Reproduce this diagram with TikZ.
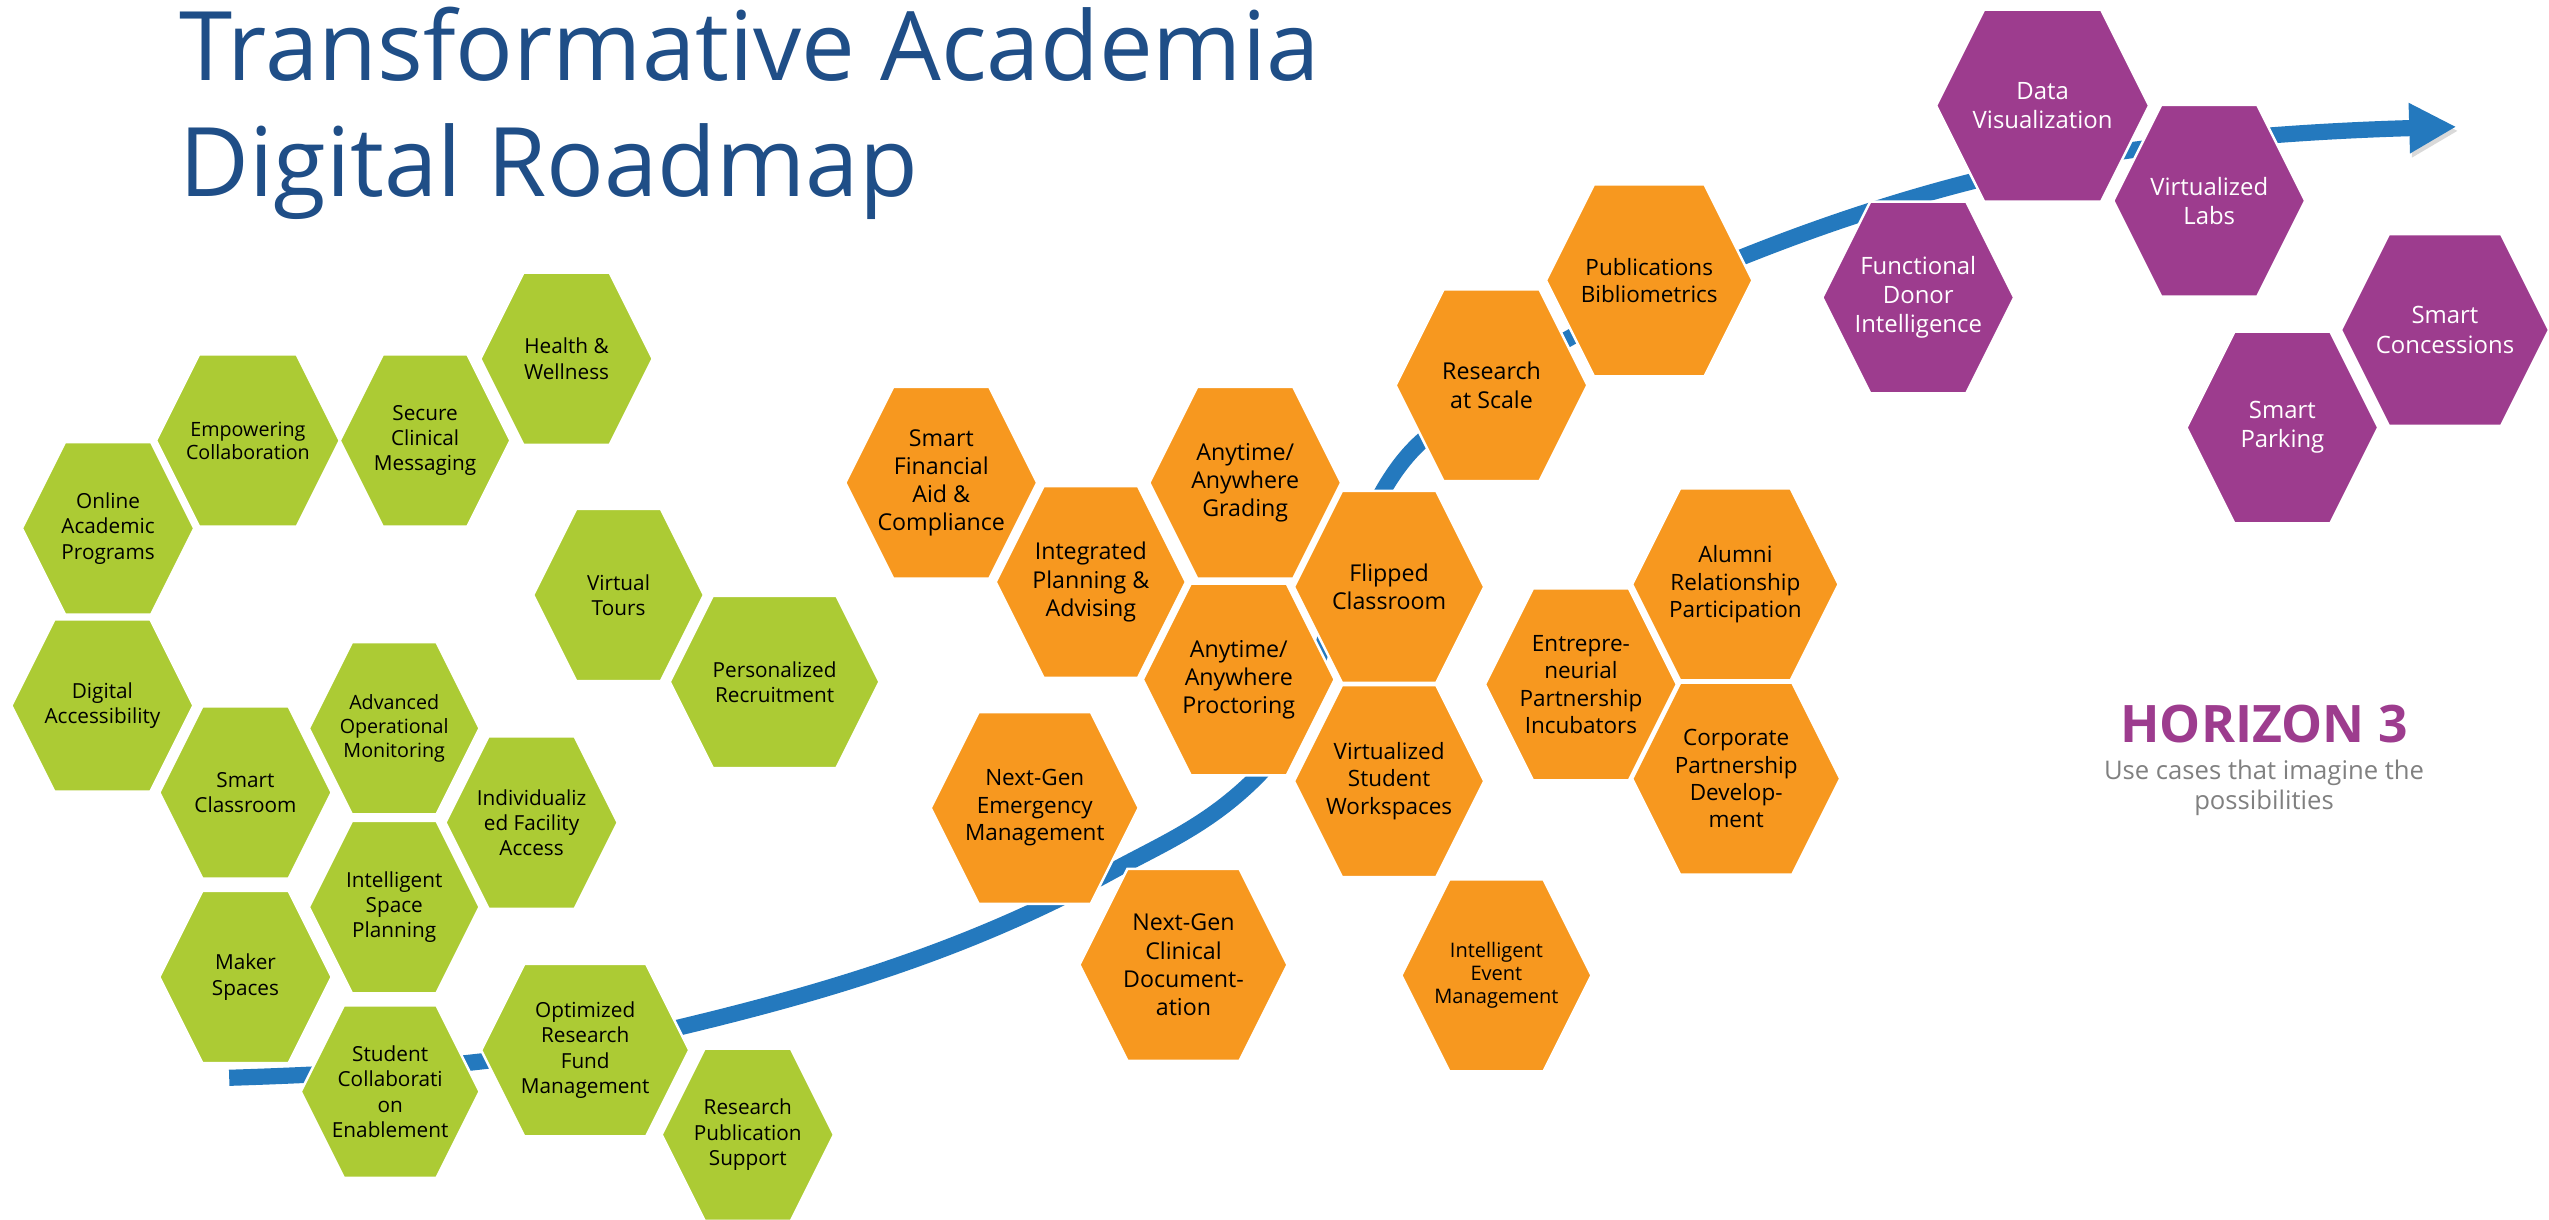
\documentclass[tikz,border=0pt]{standalone}
\usepackage{fontspec}
\setmainfont{Open Sans}
\usepackage{xcolor}
\usepackage{tikz}
\usetikzlibrary{arrows.meta}
\definecolor{leaf}{RGB}{172,203,52}
\definecolor{amber}{RGB}{247,152,31}
\definecolor{plum}{RGB}{157,60,142}
\definecolor{roadblue}{RGB}{36,121,190}
\definecolor{titleblue}{RGB}{31,78,135}
\definecolor{subgray}{RGB}{128,128,128}
\tikzset{
>={Triangle[length=13.4pt,width=13.4pt]},
  leaftext/.style={align=center, inner sep=0pt, text=black,
    font=\fontsize{5.9}{7.2}\selectfont},
  ambertext/.style={align=center, inner sep=0pt, text=black,
    font=\fontsize{6.6}{8}\selectfont},
  plumtext/.style={align=center, inner sep=0pt, text=white,
    font=\fontsize{6.8}{8.3}\selectfont},
  titletext/.style={inner sep=0pt, text=titleblue,
    font=\fontsize{27.3}{32.8}\selectfont},
  horizontext/.style={inner sep=0pt, text=plum,
    font=\fontsize{14.7}{18}\selectfont\bfseries},
  subtext/.style={inner sep=0pt, text=subgray,
    font=\fontsize{7.3}{8.6}\selectfont},
  road/.style={draw=roadblue, line width=4.6pt, ->,
    preaction={draw=black, opacity=0.15,
      transform canvas={shift={(1.2,2.5)}}}},
  pics/hexcell/.style args={#1:#2:#3}{
    code={
      \filldraw[fill=#1, draw=white, line width=0.7pt]
        (-#2,0) -- (-#2+0.5*#3,-#3) -- (#2-0.5*#3,-#3)
        -- (#2,0) -- (#2-0.5*#3,#3) -- (-#2+0.5*#3,#3) -- cycle;
    }
  }
}

\begin{document}
\begin{tikzpicture}[x=0.016257cm, y=-0.016257cm]
    \fill[white] (0,0) rectangle (1568,750);
    \useasboundingbox (0,0) rectangle (1568,750);

    % title
    \node[titletext, anchor=base west] (title1) at (110,49.6) {Transformative Academia};
    \node[titletext, anchor=base west] (title2) at (110,120.6) {Digital Roadmap};

    % the road
    \coordinate (roadstart) at (141,663);
    \coordinate (roadtip) at (1511,78);
    \draw[road] (roadstart) .. controls (236,660) and (327,654) .. (422,631)
        .. controls (509,610) and (597,584) .. (684,536)
        .. controls (714,519.5) and (743,508) .. (773,478)
        .. controls (818,433) and (822,318) .. (875,271)
        .. controls (935,217.6) and (1012,182) .. (1072,158)
        .. controls (1147,128) and (1225,105) .. (1300,94)
        .. controls (1370,83.5) and (1441,80) .. (roadtip);

    % green cells
    \path (348.5,220.7) pic {hexcell=leaf:53:53}
          node[leaftext] (health) {Health \&\\Wellness};
    \path (152.5,271) pic {hexcell=leaf:56.5:53}
          node[leaftext, font=\fontsize{5.6}{6.6}\selectfont] (empower) {Empowering\\Collaboration};
    \path (261.5,271) pic {hexcell=leaf:52.5:53}
          node[leaftext] (secure) {Secure\\Clinical\\Messaging};
    \path (66.5,325) pic {hexcell=leaf:53:53}
          node[leaftext] (online) {Online\\Academic\\Programs};
    \path (380.5,366) pic {hexcell=leaf:52.5:53}
          node[leaftext] (tours) {Virtual\\Tours};
    \path (476.5,419.5) pic {hexcell=leaf:64.5:53}
          node[leaftext] (recruit) {Personalized\\Recruitment};
    \path (63,434) pic {hexcell=leaf:56:53}
          node[leaftext] (access) {Digital\\Accessibility};
    \path (242.5,448) pic {hexcell=leaf:52.5:53}
          node[leaftext, font=\fontsize{5.6}{6.9}\selectfont] (monitor) {Advanced\\Operational\\Monitoring};
    \path (151,487.5) pic {hexcell=leaf:53:53}
          node[leaftext] (smartroom) {Smart\\Classroom};
    \path (327,506) pic {hexcell=leaf:53:53}
          node[leaftext] (facility) {Individualiz\\ed Facility\\Access};
    \path (242.5,558) pic {hexcell=leaf:52.5:53}
          node[leaftext] (spaceplan) {Intelligent\\Space\\Planning};
    \path (151,601) pic {hexcell=leaf:53:53}
          node[leaftext] (maker) {Maker\\Spaces};
    \path (240,671.5) pic {hexcell=leaf:55:53}
          node[leaftext] (studcollab) {Student\\Collaborati\\on\\Enablement};
    \path (360,646) pic {hexcell=leaf:64:53}
          node[leaftext] (fundmgmt) {Optimized\\Research\\Fund\\Management};
    \path (460,698) pic {hexcell=leaf:53:53}
          node[leaftext] (pubsupport) {Research\\Publication\\Support};

    % orange cells
    \path (579,297) pic {hexcell=amber:59:59}
          node[ambertext] (finaid) {Smart\\Financial\\Aid \&\\Compliance};
    \path (671,358) pic {hexcell=amber:58.5:59}
          node[ambertext] (advising) {Integrated\\Planning \&\\Advising};
    \path (766,297) pic {hexcell=amber:59:59}
          node[ambertext] (grading) {Anytime/\\Anywhere\\Grading};
    \path (762,418) pic {hexcell=amber:59:59}
          node[ambertext] (proctor) {Anytime/\\Anywhere\\Proctoring};
    \path (854.5,361) pic {hexcell=amber:58.5:59}
          node[ambertext] (flipped) {Flipped\\Classroom};
    \path (854.5,480.5) pic {hexcell=amber:58.5:59}
          node[ambertext, font=\fontsize{6.4}{7.9}\selectfont] (workspace) {Virtualized\\Student\\Workspaces};
    \path (636.5,497) pic {hexcell=amber:64:59}
          node[ambertext, font=\fontsize{6.4}{7.8}\selectfont] (emergency) {Next-Gen\\Emergency\\Management};
    \path (728,593.5) pic {hexcell=amber:64:59}
          node[ambertext] (clindoc) {Next-Gen\\Clinical\\Document-\\ation};
    \path (920.5,600) pic {hexcell=amber:58.5:59}
          node[ambertext, font=\fontsize{5.7}{6.6}\selectfont] (eventmgmt) {Intelligent\\Event\\Management};
    \path (917.5,237) pic {hexcell=amber:59:59}
          node[ambertext] (scale) {Research\\at Scale};
    \path (1014.5,172.5) pic {hexcell=amber:63.5:59}
          node[ambertext, font=\fontsize{6.4}{7.6}\selectfont] (biblio) {Publications\\Bibliometrics};
    \path (972.5,421) pic {hexcell=amber:59:59}
          node[ambertext, font=\fontsize{6.4}{7.8}\selectfont] (incubator) {Entrepre-\\neurial\\Partnership\\Incubators};
    \path (1067.5,359.5) pic {hexcell=amber:63.5:59}
          node[ambertext, font=\fontsize{6.4}{7.8}\selectfont] (alumni) {Alumni\\Relationship\\Participation};
    \path (1068,479) pic {hexcell=amber:64:59}
          node[ambertext, font=\fontsize{6.4}{7.8}\selectfont] (corporate) {Corporate\\Partnership\\Develop-\\ment};

    % purple cells
    \path (1256.5,65) pic {hexcell=plum:65.5:59}
          node[plumtext] (dataviz) {Data\\Visualization};
    \path (1359,123.5) pic {hexcell=plum:59:59}
          node[plumtext] (virtlabs) {Virtualized\\Labs};
    \path (1180,183) pic {hexcell=plum:59:59}
          node[plumtext] (donor) {Functional\\Donor\\Intelligence};
    \path (1504,203) pic {hexcell=plum:64:59}
          node[plumtext] (concess) {Smart\\Concessions};
    \path (1404,263) pic {hexcell=plum:59:59}
          node[plumtext] (parking) {Smart\\Parking};

    % horizon caption
    \node[horizontext, anchor=base] (horizon) at (1392.7,456.6) {HORIZON 3};
    \node[subtext, anchor=base] (usecases) at (1392.7,479.8) {Use cases that imagine the};
    \node[subtext, anchor=base] (possible) at (1392.7,497.8) {possibilities};
\end{tikzpicture}
\end{document}
